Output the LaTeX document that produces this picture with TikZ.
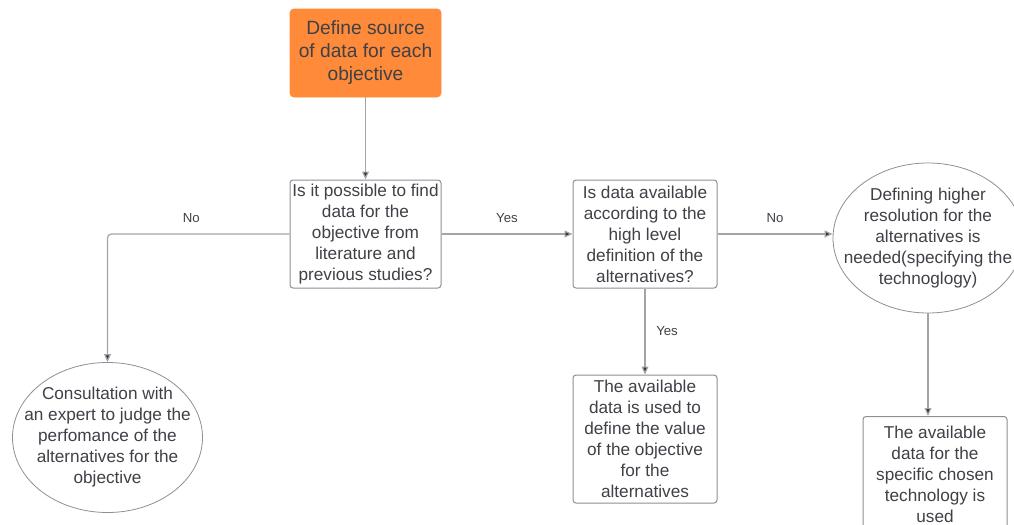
\documentclass[tikz,border=0pt]{standalone}
\usepackage{fontspec}
\setmainfont{Liberation Sans}
\usetikzlibrary{shapes.geometric, arrows.meta, positioning}
\definecolor{srcorange}{HTML}{FF8A3A}
\definecolor{boxgray}{HTML}{8E9096}
\definecolor{linegray}{HTML}{A2A4AA}
\definecolor{txtgray}{HTML}{3F4147}
\definecolor{tipdark}{HTML}{2F3137}
\tikzset{
  % Start box
  startbox/.style={
    rectangle, rounded corners=2pt, minimum width=75.5pt, minimum height=44pt,
    draw=srcorange, fill=srcorange, text=txtgray, font=\fontsize{9.6}{11.5}\selectfont,
    align=center, inner sep=1pt,
  },
  % Question / result boxes
  stepbox/.style={
    rectangle, rounded corners=1.5pt, minimum width=#1, minimum height=54pt,
    draw=boxgray, fill=white, text=txtgray, font=\fontsize{8.6}{10.5}\selectfont,
    align=center, inner sep=1pt, line width=0.5pt,
  },
  stepbox/.default={75.5pt},
  % Outcome ellipses
  outcome/.style={
    ellipse, minimum width=95pt, minimum height=75pt, inner xsep=-9pt, inner ysep=0pt,
    draw=boxgray, fill=white, text=txtgray, font=\fontsize{8.6}{10.5}\selectfont,
    align=center, line width=0.4pt,
  },
  % Arrows
  myarrow/.style={-{Triangle[length=4pt, width=3.4pt, fill=tipdark]}, draw=linegray, line width=0.6pt},
  arrlabel/.style={font=\fontsize{6.6}{8}\selectfont, text=txtgray},
}
\begin{document}
\begin{tikzpicture}[x=0.5pt, y=-0.5pt]
  \useasboundingbox (0,0) rectangle (1014,525);

  % Top
  \node[startbox] (src) at (365.5,53) {Define source\\of data for each\\objective};

  % Questions
  \node[stepbox] (find) at (365.5,234) {Is it possible to find\\data for the\\objective from\\literature and\\previous studies?};
  \node[stepbox=72pt] (avail) at (645,234) {Is data available\\according to the\\high level\\definition of the\\alternatives?};

  % Outcomes
  \node[outcome] (expert) at (107.5,437.5) {Consultation with\\an expert to judge the\\perfomance of the\\alternatives for the\\objective};
  \node[outcome] (resol) at (928,238) {Defining higher\\resolution for the\\alternatives is\\needed(specifying the\\technoglogy)};
  \node[stepbox=72pt, minimum height=64pt] (used) at (645,439) {The available\\data is used to\\define the value\\of the objective\\for the\\alternatives};
  \node[stepbox=72pt, minimum height=58pt, anchor=north] (chosen) at (935,416) {The available\\data for the\\specific chosen\\technology is\\used};

  % Arrows
  \draw[myarrow] (src) -- (find);
  \draw[myarrow] (find) -- (avail) node[arrlabel, midway, above, yshift=2pt] {Yes};
  \draw[myarrow] (avail.east) -- (avail.east -| resol.west) node[arrlabel, midway, above, yshift=2pt] {No};
  \draw[myarrow] (avail) -- (used) node[arrlabel, midway, right, xshift=2pt] {Yes};
  \draw[myarrow, rounded corners=2pt] (find.west) -| (expert.north) node[arrlabel, pos=0.27, above, yshift=2pt] {No};
  \draw[myarrow] (resol.south) -- (resol.south |- chosen.north);

\end{tikzpicture}
\end{document}
